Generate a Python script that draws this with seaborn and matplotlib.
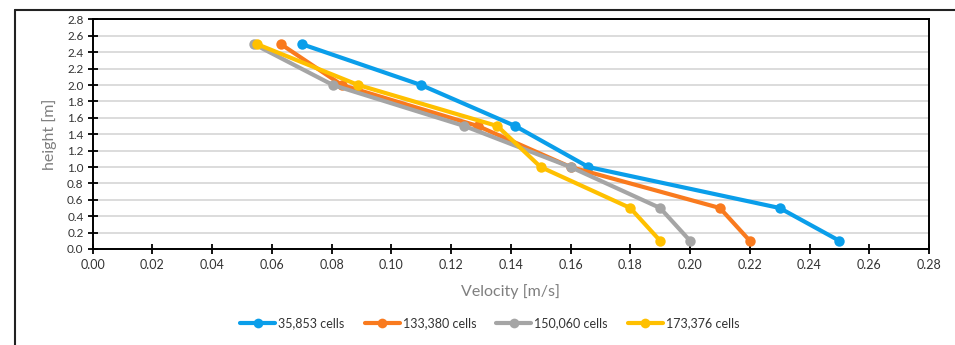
import matplotlib
matplotlib.use("Agg")
import matplotlib.pyplot as plt
from matplotlib.lines import Line2D
import seaborn as sns
import pandas as pd

# Measurement heights [m]
heights = [2.5, 2.0, 1.5, 1.0, 0.5, 0.1]

# Velocity profiles [m/s] for each mesh
vel_35853 = [0.070, 0.110, 0.1415, 0.166, 0.230, 0.250]
vel_133380 = [0.063, 0.0835, 0.129, 0.160, 0.210, 0.220]
vel_150060 = [0.054, 0.0805, 0.1245, 0.160, 0.190, 0.200]
vel_173376 = [0.055, 0.089, 0.1355, 0.150, 0.180, 0.190]

series_names = ["35,853 cells", "133,380 cells", "150,060 cells", "173,376 cells"]
series_vals = [vel_35853, vel_133380, vel_150060, vel_173376]
colors = ["#0A9EEA", "#F97A1E", "#A5A5A5", "#FFC000"]

rows = []
for name, vals in zip(series_names, series_vals):
    for v, h in zip(vals, heights):
        rows.append({"Velocity": v, "height": h, "mesh": name})
df = pd.DataFrame(rows)

sns.set_theme(style="white")
plt.rcParams["font.family"] = ["Lato", "DejaVu Sans"]

fig = plt.figure(figsize=(9.55, 3.45), dpi=100)
ax = fig.add_axes([0.0969, 0.2783, 0.8759, 0.6652])

sns.lineplot(data=df, x="Velocity", y="height", hue="mesh",
             hue_order=series_names, palette=colors, sort=False,
             estimator=None, marker="o", markersize=7.5, markeredgewidth=0,
             linewidth=3, legend=False, ax=ax, zorder=3)

ax.set_xlim(0, 0.28)
ax.set_ylim(0, 2.8)
ax.set_xticks([i * 0.02 for i in range(15)])
ax.set_yticks([i * 0.2 for i in range(15)])
ax.set_xticklabels([f"{i * 0.02:.2f}" for i in range(15)])
ax.set_yticklabels([f"{i * 0.2:.1f}" for i in range(15)])
ax.tick_params(axis="both", direction="inout", length=7, width=1.3,
               color="black", labelsize=9, labelcolor="#333333", pad=4,
               bottom=True, left=True)
ax.tick_params(axis="y", labelsize=8.5, pad=3)
ax.yaxis.grid(True, color="#D9D9D9", linewidth=1.3, zorder=0)
ax.set_axisbelow(True)
for sp in ax.spines.values():
    sp.set_color("black")
    sp.set_linewidth(1.4)

ax.set_xlabel("Velocity [m/s]", fontsize=11.5, color="#7F7F7F", labelpad=9)
ax.set_ylabel("height [m]", fontsize=11.5, color="#7F7F7F", labelpad=7)

handles = [Line2D([0], [0], color=c, linewidth=3, marker="o", markersize=7,
                  markeredgewidth=0) for c in colors]
fig.legend(handles, series_names, loc="center", bbox_to_anchor=(0.513, 0.062),
           ncol=4, frameon=False, fontsize=9, handlelength=2.8,
           columnspacing=1.6, handletextpad=0.25, labelcolor="#333333")

# Frame lines around the chart area
fig.add_artist(Line2D([15 / 955, 1.0], [1 - 9.5 / 345, 1 - 9.5 / 345],
                      transform=fig.transFigure, color="#222222", linewidth=1.5))
fig.add_artist(Line2D([15 / 955, 15 / 955], [0, 1 - 9.5 / 345],
                      transform=fig.transFigure, color="#222222", linewidth=1.5))

fig.savefig("out.png", dpi=100)
